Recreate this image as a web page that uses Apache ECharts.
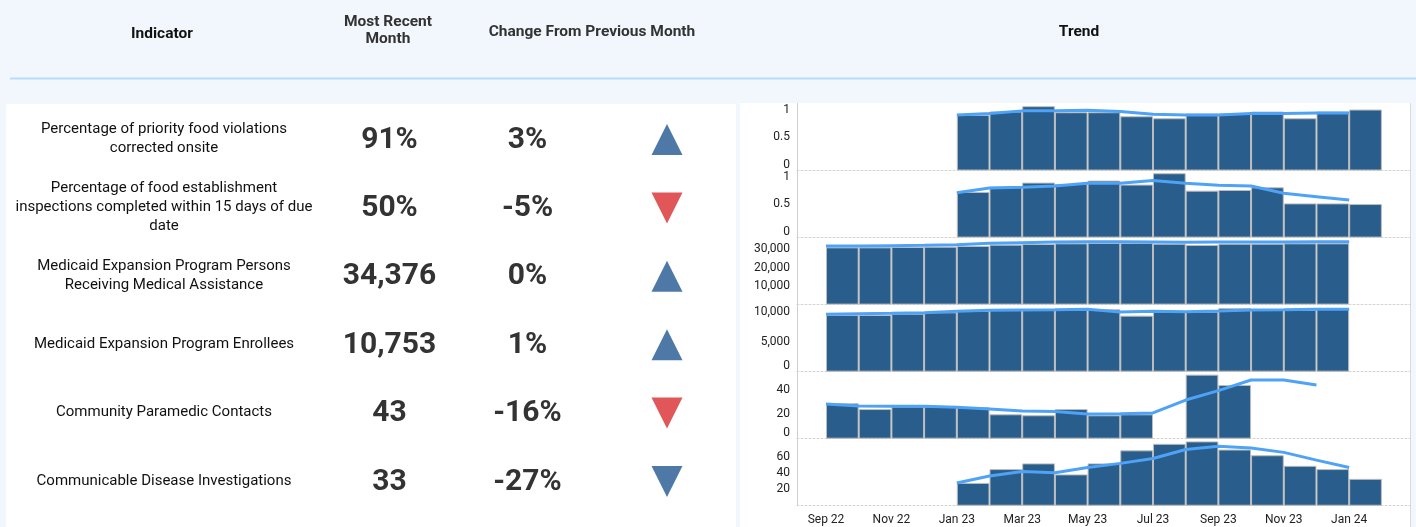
<!DOCTYPE html>
<html><head><meta charset="utf-8">
<script src="https://cdn.jsdelivr.net/npm/echarts@6/dist/echarts.min.js"></script>
<style>html,body{margin:0;padding:0;background:#f2f7fd;}#c{width:1416px;height:527px;}</style>
</head><body><div id="c"></div>
<script>
// ---------- DATA ----------
const months = ['Sep 22','Oct 22','Nov 22','Dec 22','Jan 23','Feb 23','Mar 23','Apr 23','May 23','Jun 23','Jul 23','Aug 23','Sep 23','Oct 23','Nov 23','Dec 23','Jan 24','Feb 24'];
const monthLabelIdx = [0,2,4,6,8,10,12,14,16];

const indicators = [
  'Percentage of priority food violations\ncorrected onsite',
  'Percentage of food establishment\ninspections completed within 15 days of due\ndate',
  'Medicaid Expansion Program Persons\nReceiving Medical Assistance',
  'Medicaid Expansion Program Enrollees',
  'Community Paramedic Contacts',
  'Communicable Disease Investigations'
];
const recentValues = ['91%','50%','34,376','10,753','43','33'];
const changes = ['3%','-5%','0%','1%','-16%','-27%'];
const directions = ['up','down','up','up','down','down'];
const statuses = ['good','bad','good','good','bad','good'];

const foodViolBars  = [null,null,null,null,0.83,0.88,0.96,0.87,0.87,0.81,0.78,0.85,0.85,0.88,0.78,0.88,0.91];
const foodViolTrend = [null,null,null,null,0.83,0.85,0.89,0.89,0.90,0.88,0.84,0.83,0.83,0.85,0.85,0.86,0.86];
const inspBars  = [null,null,null,null,0.68,0.76,0.82,0.80,0.85,0.79,0.96,0.70,0.71,0.75,0.51,0.51,0.50];
const inspTrend = [null,null,null,null,0.67,0.74,0.75,0.77,0.81,0.81,0.85,0.81,0.78,0.77,0.66,0.61,0.56];
const medPersonsBars  = [30900,30900,31080,31260,31620,32340,32700,33060,33240,33240,32880,32160,32880,32880,33060,33060];
const medPersonsTrend = [31620,31620,31800,31980,32340,33060,33420,33780,33960,33960,33780,33600,33780,33780,33780,33960,33960];
const enrolleesBars  = [9500,9500,9720,9950,10170,10340,10390,10450,10450,9390,10060,10060,10670,10340,10340,10500];
const enrolleesTrend = [9610,9720,9780,9890,10110,10280,10340,10390,10450,10000,10110,10060,10170,10340,10390,10450,10450];
const paramedicBars  = [29,24.3,26.3,26.3,25.7,20,19.2,24.3,19.2,20,null,52.5,44];
const paramedicTrend = [28.4,26.8,26.5,26.5,25.7,24.3,22.7,22.2,20.2,20.5,21.1,31.7,39.4,48.1,48.1,44];
const diseaseBars  = [null,null,null,null,28,45,52,38.5,52,68,76,79,69,62,49,45,33];
const diseaseTrend = [null,null,null,null,28,36.5,42,40.5,47,52,58,69,73,71,65.5,56,47];

const yTicksPct = [0,0.5,1];
const yTicksPersons = [10000,20000,30000];
const yTicksEnrollees = [0,5000,10000];
const yTicksParamedic = [0,20,40];
const yTicksDisease = [20,40,60];

// ---------- LAYOUT ----------
const FONT = 'Roboto, "Noto Sans", sans-serif';
const PANEL_TOP = 103.5, PANEL_H = 67.04;
const COL = {indicator:158, value:383.5, change:521.5, arrow:661};
const panels = [
  {bars:foodViolBars, line:foodViolTrend, ticks:yTicksPct, max:1, vMin:'bottom', vMax:'top'},
  {bars:inspBars, line:inspTrend, ticks:yTicksPct, max:1, vMin:'bottom', vMax:'top'},
  {bars:medPersonsBars, line:medPersonsTrend, ticks:yTicksPersons, max:36160},
  {bars:enrolleesBars, line:enrolleesTrend, ticks:yTicksEnrollees, max:11237, vMin:'bottom'},
  {bars:paramedicBars, line:paramedicTrend, ticks:yTicksParamedic, max:54.95, vMin:'bottom'},
  {bars:diseaseBars, line:diseaseTrend, ticks:yTicksDisease, max:82.3}
];

const grids=[], xAxes=[], yAxes=[], series=[];
panels.forEach((p,k)=>{
  grids.push({left:797, right:6, top:PANEL_TOP+k*PANEL_H, height:PANEL_H, containLabel:false});
  xAxes.push({type:'value', gridIndex:k, min:-0.887, max:17.86,
    axisLine:{show:true,onZero:false,lineStyle:{color:'#d4d4d4',type:[2,2],width:1}},
    axisTick:{show:false}, splitLine:{show:false},
    axisLabel: k===panels.length-1 ? {show:true, customValues:monthLabelIdx, formatter:v=>months[v], color:'#222', fontSize:12, fontFamily:FONT, margin:8} : {show:false}
  });
  const lbl = {show:true, customValues:p.ticks, formatter:v=>Number(v).toLocaleString('en-US'), color:'#222', fontSize:12, fontFamily:FONT, margin:7};
  if (p.vMin) lbl.verticalAlignMinLabel = p.vMin;
  if (p.vMax) lbl.verticalAlignMaxLabel = p.vMax;
  yAxes.push({type:'value', gridIndex:k, min:0, max:p.max,
    axisLine:{show:true,onZero:false,lineStyle:{color:'#cfcfcf'}},
    axisTick:{show:false}, splitLine:{show:false}, axisLabel:lbl});
  series.push({type:'bar', xAxisIndex:k, yAxisIndex:k, barWidth:'100%', silent:true,
    data:p.bars.map((v,i)=>v==null?null:[i+0.5,v]).filter(Boolean),
    itemStyle:{color:'#285d8c', borderColor:'#bdbdbd', borderWidth:1}});
  series.push({type:'line', xAxisIndex:k, yAxisIndex:k, silent:true, symbol:'none', z:3,
    data:p.line.map((v,i)=>v==null?null:[i,v]).filter(Boolean),
    lineStyle:{color:'#4ea3f7', width:3}});
});

// table grid
const T = panels.length;
grids.push({left:6, width:730, top:103.8, height:410.4});
xAxes.push({type:'value', gridIndex:T, min:0, max:730, show:false});
yAxes.push({type:'category', gridIndex:T, data:indicators.map((_,i)=>i), inverse:true, show:false});
function textSeries(col, texts, style){
  return {type:'scatter', xAxisIndex:T, yAxisIndex:T, symbolSize:1, silent:true,
    itemStyle:{color:'rgba(0,0,0,0)', opacity:1},
    data:texts.map((_,r)=>[col,r]),
    label:Object.assign({show:true, position:'inside', formatter:p=>texts[p.dataIndex], align:'center', verticalAlign:'middle', fontFamily:FONT, opacity:1}, style)};
}
series.push(textSeries(COL.indicator, indicators, {color:'#111', fontSize:15, lineHeight:19, offset:[0,1]}));
series.push(textSeries(COL.value, recentValues, {color:'#333', fontSize:30, fontWeight:'bold', offset:[0,2]}));
series.push(textSeries(COL.change, changes, {color:'#333', fontSize:30, fontWeight:'bold', offset:[0,2]}));
series.push({type:'scatter', xAxisIndex:T, yAxisIndex:T, symbol:'triangle', symbolSize:[31,31], symbolOffset:[0,1.5], silent:true,
  data:directions.map((d,r)=>({value:[COL.arrow,r], symbolRotate:d==='down'?180:0,
    itemStyle:{color:statuses[r]==='good'?'#4e79a7':'#e15759', opacity:1}}))});

const hdr = (text,x,y,fill)=>({type:'text', x:x, y:y, z:5, silent:true,
  style:{text:text, fill:fill, fontSize:15.5, fontWeight:'bold', fontFamily:FONT, align:'center', verticalAlign:'middle', lineHeight:17}});

const chart = echarts.init(document.getElementById('c'), null, {width:1416, height:527});
chart.setOption({
  animation:false,
  backgroundColor:'#f2f7fd',
  grid:grids, xAxis:xAxes, yAxis:yAxes, series:series,
  graphic:[
    {type:'rect', z:-10, silent:true, shape:{x:6,y:104,width:730,height:423}, style:{fill:'#ffffff'}},
    {type:'rect', z:-10, silent:true, shape:{x:740,y:103,width:670,height:424}, style:{fill:'#ffffff'}},
    {type:'line', z:-9, silent:true, shape:{x1:1410.5,y1:103,x2:1410.5,y2:527}, style:{stroke:'#dadada', lineWidth:1}},
    {type:'line', z:-9, silent:true, shape:{x1:10,y1:78.5,x2:1416,y2:78.5}, style:{stroke:'#b8dcfb', lineWidth:2}},
    hdr('Indicator',162,34,'#111'),
    hdr('Most Recent\nMonth',388,30.5,'#333'),
    hdr('Change From Previous Month',592,32,'#333'),
    hdr('Trend',1079,32,'#111')
  ]
});
</script>
</body></html>
